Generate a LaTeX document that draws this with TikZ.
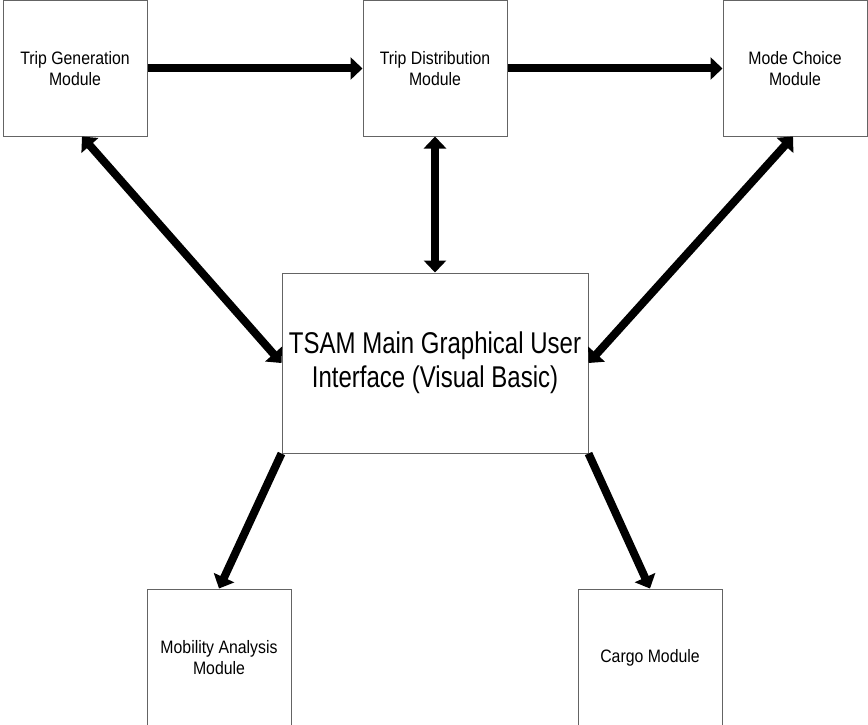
\documentclass[tikz,border=0pt]{standalone}
\usepackage{fontspec}
\setmainfont{Liberation Sans}
\newfontfamily\smallf{Liberation Sans}[FakeStretch=0.88]
\newfontfamily\bigf{Liberation Sans}[FakeStretch=0.80]
\usetikzlibrary{arrows.meta,calc}
\definecolor{boxgray}{RGB}{100,100,100}
\tikzset{
  modbox/.style={draw=boxgray, line width=1pt, fill=white, rectangle, inner sep=0pt,
    minimum width=144pt, minimum height=135pt, align=center,
    font=\smallf\fontsize{18pt}{21pt}\selectfont},
  mainbox/.style={draw=boxgray, line width=1pt, fill=white, rectangle, inner sep=0pt,
    minimum width=306pt, minimum height=180pt, align=center,
    font=\bigf\fontsize{30pt}{34pt}\selectfont},
  flow/.style={line width=8pt, -{Triangle[length=12pt,width=22pt]}},
  dflow/.style={line width=8pt, {Triangle[length=12pt,width=22pt]}-{Triangle[length=12pt,width=22pt]}}
}
\begin{document}
\begin{tikzpicture}[x=1pt,y=-1pt]
\useasboundingbox (0,0) rectangle (868,725);
\clip (0,0) rectangle (868,725);
\node[modbox] (gen) at (75,68.5) {Trip Generation\\Module};
\node[modbox] (dist) at (435,68.5) {Trip Distribution\\Module};
\node[modbox] (mode) at (795,68.5) {Mode Choice\\Module};
\node[mainbox] (main) at (435,363) {TSAM Main Graphical User\\Interface (Visual Basic)};
\node[modbox, minimum height=138pt] (mob) at (219,658) {Mobility Analysis\\Module};
\node[modbox, minimum height=138pt] (cargo) at (650,658) {Cargo Module};
\draw[flow] (gen.east) -- (dist.west);
\draw[flow] (dist.east) -- (mode.west);
\draw[dflow] ($(gen.south)+(7,0)$) -- (main.west);
\draw[dflow] (dist.south) -- (main.north);
\draw[dflow] ($(mode.south)+(-2,0)$) -- (main.east);
\draw[flow] (main.south west) -- (mob.north);
\draw[flow] (main.south east) -- (cargo.north);
\end{tikzpicture}
\end{document}
